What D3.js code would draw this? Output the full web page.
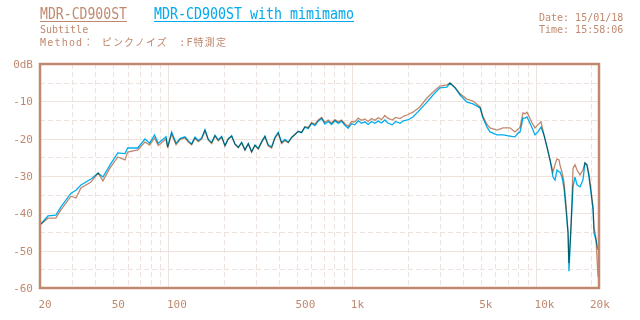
<!DOCTYPE html>
<meta charset="utf-8">
<script src="https://d3js.org/d3.v7.min.js"></script>
<style>
body { margin: 0; background: #fff; }
text { font-family: "DejaVu Sans Mono", "Noto Sans CJK JP", monospace; fill: #c0896f; }
.grid line { stroke: #eee2dc; stroke-width: 1; }
.grid .dash { stroke-dasharray: 5,3; }
.trace { fill: none; stroke-width: 1.3; mix-blend-mode: multiply; }
</style>
<div id="chart"></div>
<script>
// frequency points (Hz) and levels (dB)
var freqs = [20, 22.1, 24.4, 26, 29.5, 31.4, 33.4, 37.9, 41.4, 44, 48, 53, 58, 60, 68, 74.5, 79, 84, 88, 97, 99, 104, 110, 116,
  123.0, 128.2, 133.7, 139.4, 145.4, 151.6, 158.0, 164.8, 171.8, 179.1, 186.7, 194.7, 203.0, 211.6, 220.7, 230.1, 239.9,
  250.1, 260.7, 271.8, 283.4, 295.5, 308.1, 321.2, 334.9, 349.2, 364.0, 379.6, 395.7, 412.6, 430.2, 448.5, 467.6, 487.5,
  508.3, 529.9, 552.5, 576.1, 600.6, 626.2, 652.9, 680.7, 709.7, 739.9, 771.4, 804.3, 838.6, 874.3, 911.5, 950.4, 990.9,
  1033, 1077, 1123, 1171, 1221, 1273, 1327, 1384, 1443, 1504, 1560, 1650, 1720, 1820, 1900, 2000, 2140,
  2330, 2550, 2750, 3000, 3270, 3400, 3620, 3860, 4210, 4540, 4960, 5140, 5410, 5610, 6130, 6610, 7210, 7680, 7970, 8180,
  8490, 8710, 8930, 9510, 9870, 10230, 10640, 11040, 11460, 11910, 12360, 12680, 13000, 13340, 13490, 13840, 14190,
  14560, 14930, 15100, 15490, 15890, 16290, 16710, 17340, 17990, 18450, 18920, 19410, 19910, 20420, 20660, 21180, 21730];

var mdr = [-43.1, -41.3, -41.3, -39.1, -35.4, -35.9, -33.2, -31.6, -29.2, -31.3, -27.9, -24.9, -25.7, -23.6, -23.0, -20.9,
  -21.7, -19.8, -21.8, -20.1, -22.5, -18.8, -21.6, -20.2,
  -19.8, -20.9, -21.6, -19.9, -20.8, -20.1, -17.9, -20.4, -21.3, -19.3, -20.6, -19.6, -22.0, -20.1, -19.4, -21.5, -22.4,
  -21.1, -23.1, -21.4, -23.6, -21.8, -22.8, -21.0, -19.5, -22.0, -22.5, -19.9, -18.6, -21.3, -20.5, -21.1, -19.8, -18.9,
  -18.0, -18.3, -16.8, -17.0, -15.7, -16.1, -15.0, -14.3, -15.6, -15.0, -15.8, -14.9, -15.5, -15.0, -16.0, -16.7, -15.4,
  -15.5, -14.5, -15.1, -14.7, -15.4, -14.6, -15.1, -14.4, -14.9, -13.8, -14.5, -15.0, -14.3, -14.6, -14.0, -13.6, -12.9,
  -11.5, -9.1, -7.5, -5.9, -5.6, -5.1, -6.2, -8.0, -9.4, -9.9, -11.5, -14.0, -16.2, -17.1, -17.7, -17.1, -17.1, -18.2,
  -17.5, -16.9, -13.1, -13.3, -12.9, -15.8, -17.1, -16.3, -15.5, -19.0, -22.2, -25.7, -28.9, -27.0, -25.4, -25.7, -27.0,
  -29.0, -31.6, -37.8, -45.3, -53.3, -43.7, -27.9, -27.0, -28.4, -29.7, -28.4, -26.5, -27.0, -29.5, -33.8, -38.3, -43.7,
  -46.6, -57.0];

var mimi = [-43.1, -40.7, -40.5, -38.3, -34.6, -33.8, -32.4, -30.8, -29.2, -30.3, -27.1, -23.8, -24.0, -22.5, -22.5, -20.1,
  -21.2, -19.0, -21.2, -19.5, -22.2, -18.2, -21.2, -19.9,
  -19.5, -20.6, -21.4, -19.6, -20.5, -19.8, -17.6, -20.2, -21.0, -19.1, -20.3, -19.4, -21.8, -20.0, -19.2, -21.4, -22.3,
  -21.0, -23.0, -21.3, -23.5, -21.7, -22.6, -20.8, -19.3, -21.7, -22.2, -19.6, -18.3, -21.0, -20.2, -20.9, -19.6, -18.9,
  -18.1, -18.4, -16.9, -17.3, -15.9, -16.5, -15.3, -14.6, -16.1, -15.4, -16.2, -15.2, -15.9, -15.3, -16.4, -17.2, -16.0,
  -16.3, -15.2, -15.9, -15.5, -16.2, -15.4, -15.9, -15.3, -15.8, -15.0, -15.8, -16.3, -15.4, -15.9, -15.2, -15.0, -14.2,
  -12.3, -10.2, -8.3, -6.4, -6.2, -5.1, -6.4, -8.3, -10.2, -10.7, -11.8, -14.5, -16.9, -18.2, -19.0, -19.0, -19.3, -19.5,
  -18.5, -18.2, -14.5, -14.5, -14.2, -17.1, -19.0, -18.2, -16.9, -19.0, -22.2, -25.7, -30.3, -31.1, -28.4, -28.9, -28.9,
  -30.3, -33.2, -39.1, -45.3, -55.5, -43.7, -32.9, -30.3, -32.4, -32.9, -31.1, -26.5, -27.0, -30.3, -34.6, -39.1, -45.3,
  -47.1, -49.8];

var xLabels = [20, 50, 100, 500, 1000, 5000, 10000, 20000];
var xMajor = [100, 1000, 10000];
var xMinor = [30, 40, 50, 60, 70, 80, 90, 200, 300, 400, 500, 600, 700, 800, 900,
  2000, 3000, 4000, 5000, 6000, 7000, 8000, 9000, 20000];
var yLabels = [0, -10, -20, -30, -40, -50, -60];
var yMinor = [-5, -15, -25, -35, -45, -55];

var W = 640, H = 320;
var margin = {top: 64, right: 41, bottom: 32, left: 40};

var svg = d3.select("#chart").append("svg").attr("width", W).attr("height", H);

var x = d3.scaleLog().domain([20, 22000]).range([margin.left, W - margin.right]);
var y = d3.scaleLinear().domain([-60, 0]).range([H - margin.bottom, margin.top]);

// header
svg.append("text").attr("x", 40).attr("y", 19).style("font-size", "16px")
  .attr("textLength", 87).attr("lengthAdjust", "spacingAndGlyphs").text("MDR-CD900ST");
svg.append("line").attr("x1", 40).attr("x2", 127).attr("y1", 21.5).attr("y2", 21.5).style("stroke", "#c0896f");
svg.append("text").attr("x", 154).attr("y", 19).style("font-size", "16px").style("fill", "#00aaee")
  .attr("textLength", 200).attr("lengthAdjust", "spacingAndGlyphs").text("MDR-CD900ST with mimimamo");
svg.append("line").attr("x1", 154).attr("x2", 354).attr("y1", 21.5).attr("y2", 21.5).style("stroke", "#00aaee");
svg.append("text").attr("x", 40).attr("y", 33).style("font-size", "10px").text("Subtitle");
svg.append("text").attr("x", 40).attr("y", 46).style("font-size", "10px")
  .attr("textLength", 186).attr("lengthAdjust", "spacing").text("Method： ピンクノイズ　:F特測定");
svg.append("text").attr("x", 539).attr("y", 21).style("font-size", "10px").text("Date: 15/01/18");
svg.append("text").attr("x", 539).attr("y", 33).style("font-size", "10px").text("Time: 15:58:06");

// grid
var grid = svg.append("g").attr("class", "grid");
var px = function(v) { return Math.round(v) + 0.5; };
grid.selectAll(".hmaj").data(yLabels.slice(1, -1)).enter().append("line")
  .attr("x1", margin.left).attr("x2", W - margin.right)
  .attr("y1", function(d) { return px(y(d)); }).attr("y2", function(d) { return px(y(d)); });
grid.selectAll(".hmin").data(yMinor).enter().append("line").attr("class", "dash")
  .attr("x1", margin.left).attr("x2", W - margin.right)
  .attr("y1", function(d) { return px(y(d)); }).attr("y2", function(d) { return px(y(d)); });
grid.selectAll(".vmaj").data(xMajor).enter().append("line")
  .attr("y1", margin.top).attr("y2", H - margin.bottom)
  .attr("x1", function(d) { return px(x(d)); }).attr("x2", function(d) { return px(x(d)); });
grid.selectAll(".vmin").data(xMinor).enter().append("line").attr("class", "dash")
  .attr("y1", margin.top).attr("y2", H - margin.bottom)
  .attr("x1", function(d) { return px(x(d)); }).attr("x2", function(d) { return px(x(d)); });

// traces
var line = d3.line().x(function(d) { return x(d[0]); }).y(function(d) { return y(d[1]); });
var traces = svg.append("g").style("isolation", "isolate");
traces.append("path").attr("class", "trace").style("stroke", "#c0896f")
  .attr("d", line(freqs.map(function(f, i) { return [f, mdr[i]]; })));
traces.append("path").attr("class", "trace").style("stroke", "#00aeef")
  .attr("d", line(freqs.map(function(f, i) { return [f, mimi[i]]; })));

// frame
svg.append("rect").attr("x", margin.left).attr("y", margin.top)
  .attr("width", W - margin.left - margin.right).attr("height", H - margin.top - margin.bottom)
  .style("fill", "none").style("stroke", "#c0896f").style("stroke-width", 2.5);

// axes
var fmtX = function(d) { return d >= 1000 ? (d / 1000) + "k" : d; };
var gx = svg.append("g").attr("transform", "translate(0," + (H - margin.bottom) + ")")
  .call(d3.axisBottom(x).tickValues(xLabels).tickFormat(fmtX).tickSize(0).tickPadding(12));
gx.select(".domain").remove();
gx.selectAll("text").style("font-size", "11px").style("text-anchor", "start").attr("dx", "-2");

var gy = svg.append("g").attr("transform", "translate(" + (margin.left - 7) + ",0)")
  .call(d3.axisLeft(y).tickValues(yLabels).tickFormat(function(d) { return d === 0 ? "0dB" : d; }).tickSize(0).tickPadding(0));
gy.select(".domain").remove();
gy.selectAll("text").style("font-size", "11px");
</script>
